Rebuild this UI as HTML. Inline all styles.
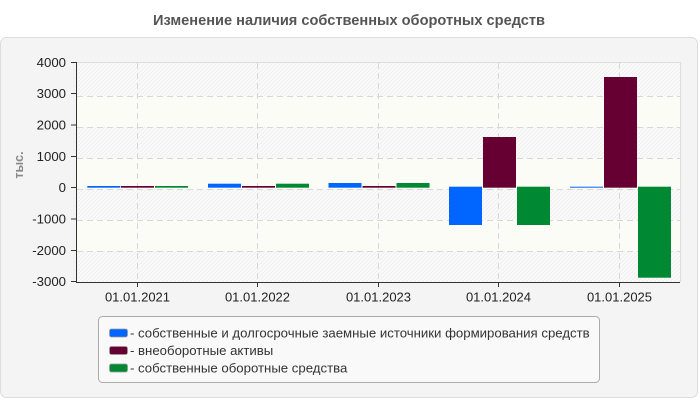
<!DOCTYPE html>
<html>
<head>
<meta charset="utf-8">
<style>
html,body{margin:0;padding:0;background:#fff;}
svg{display:block;}
text{font-family:"Liberation Sans","DejaVu Sans",sans-serif;}
</style>
</head>
<body>
<svg width="700" height="400" viewBox="0 0 700 400" xmlns="http://www.w3.org/2000/svg">
  <defs>
    <pattern id="hatch" patternUnits="userSpaceOnUse" width="4" height="4">
      <rect width="4" height="4" fill="#fbfbfb"/>
      <path d="M-1,1 L1,-1 M0,4 L4,0 M3,5 L5,3" stroke="#efefef" stroke-width="1"/>
    </pattern>
  </defs>

  <!-- title -->
  <text x="349" y="25" text-anchor="middle" font-size="14.6" font-weight="bold" fill="#555">Изменение наличия собственных оборотных средств</text>

  <!-- outer panel -->
  <rect x="0.5" y="37.5" width="697" height="360" rx="6" ry="6" fill="#f4f4f4" stroke="#dddddd"/>

  <!-- plot bands -->
  <rect x="76" y="62" width="604" height="34" fill="url(#hatch)"/>
  <rect x="76" y="96" width="604" height="31" fill="#fcfcf6"/>
  <rect x="76" y="127" width="604" height="31" fill="url(#hatch)"/>
  <rect x="76" y="158" width="604" height="31" fill="#fcfcf6"/>
  <rect x="76" y="189" width="604" height="31" fill="url(#hatch)"/>
  <rect x="76" y="220" width="604" height="31" fill="#fcfcf6"/>
  <rect x="76" y="251" width="604" height="31" fill="url(#hatch)"/>

  <!-- frame top/right -->
  <path d="M76,62.5 H680.5 V282" stroke="#dddddd" stroke-width="1" fill="none"/>

  <!-- horizontal grid -->
  <g stroke="#d8d8d8" stroke-width="1" stroke-dasharray="6,4">
    <line x1="77" y1="96.5" x2="680" y2="96.5"/>
    <line x1="77" y1="127.5" x2="680" y2="127.5"/>
    <line x1="77" y1="158.5" x2="680" y2="158.5"/>
    <line x1="77" y1="189.5" x2="680" y2="189.5"/>
    <line x1="77" y1="220.5" x2="680" y2="220.5"/>
    <line x1="77" y1="251.5" x2="680" y2="251.5"/>
  </g>
  <!-- vertical grid -->
  <g stroke="#d8d8d8" stroke-width="1" stroke-dasharray="6,4">
    <line x1="137.5" y1="63" x2="137.5" y2="282"/>
    <line x1="257.5" y1="63" x2="257.5" y2="282"/>
    <line x1="378.5" y1="63" x2="378.5" y2="282"/>
    <line x1="498.5" y1="63" x2="498.5" y2="282"/>
    <line x1="619.5" y1="63" x2="619.5" y2="282"/>
  </g>

  <!-- bars -->
  <g>
    <rect x="87.3" y="186" width="33" height="1.7" fill="#0066ff"/>
    <rect x="121" y="186" width="33" height="1.7" fill="#660033"/>
    <rect x="155" y="186" width="33" height="1.7" fill="#008833"/>

    <rect x="208" y="183.7" width="33" height="4" fill="#0066ff"/>
    <rect x="242" y="186" width="33" height="1.7" fill="#660033"/>
    <rect x="276" y="183.7" width="33" height="4" fill="#008833"/>

    <rect x="328.5" y="183" width="33" height="4.7" fill="#0066ff"/>
    <rect x="362.5" y="186" width="33" height="1.7" fill="#660033"/>
    <rect x="396.5" y="183" width="33" height="4.7" fill="#008833"/>

    <rect x="449" y="186.7" width="33" height="38.3" fill="#0066ff"/>
    <rect x="483" y="137" width="33" height="50.7" fill="#660033"/>
    <rect x="517" y="186.7" width="33" height="38.3" fill="#008833"/>

    <rect x="570" y="186.7" width="33" height="1" fill="#0066ff"/>
    <rect x="604" y="77" width="33" height="110.7" fill="#660033"/>
    <rect x="638" y="186.7" width="33" height="91" fill="#008833"/>
  </g>

  <!-- axes -->
  <g stroke="#333" stroke-width="1" fill="none">
    <line x1="76.5" y1="62" x2="76.5" y2="282.5"/>
    <line x1="76" y1="282.5" x2="680" y2="282.5"/>
    <line x1="71" y1="62.5" x2="76" y2="62.5"/>
    <line x1="71" y1="93.5" x2="76" y2="93.5"/>
    <line x1="71" y1="125" x2="76" y2="125"/>
    <line x1="71" y1="156.5" x2="76" y2="156.5"/>
    <line x1="71" y1="187.5" x2="76" y2="187.5"/>
    <line x1="71" y1="219" x2="76" y2="219"/>
    <line x1="71" y1="250.5" x2="76" y2="250.5"/>
    <line x1="71" y1="281.5" x2="76" y2="281.5"/>
    <line x1="137.5" y1="282" x2="137.5" y2="287"/>
    <line x1="257.5" y1="282" x2="257.5" y2="287"/>
    <line x1="378.5" y1="282" x2="378.5" y2="287"/>
    <line x1="498.5" y1="282" x2="498.5" y2="287"/>
    <line x1="619.5" y1="282" x2="619.5" y2="287"/>
  </g>

  <!-- y labels -->
  <g font-size="13.2" fill="#222" text-anchor="end">
    <text x="66" y="67">4000</text>
    <text x="66" y="98">3000</text>
    <text x="66" y="129.5">2000</text>
    <text x="66" y="161">1000</text>
    <text x="66" y="192">0</text>
    <text x="66" y="223.5">-1000</text>
    <text x="66" y="255">-2000</text>
    <text x="66" y="286">-3000</text>
  </g>

  <!-- y axis title -->
  <text transform="translate(23,165) rotate(-90)" text-anchor="middle" font-size="12.5" font-weight="bold" fill="#888">тыс.</text>

  <!-- x labels -->
  <g font-size="13" fill="#222" text-anchor="middle">
    <text x="137.5" y="301.5">01.01.2021</text>
    <text x="257.5" y="301.5">01.01.2022</text>
    <text x="378.5" y="301.5">01.01.2023</text>
    <text x="498.5" y="301.5">01.01.2024</text>
    <text x="619.5" y="301.5">01.01.2025</text>
  </g>

  <!-- legend -->
  <rect x="98.5" y="316.5" width="501" height="66" rx="4" ry="4" fill="#f9f9f9" stroke="#aaaaaa"/>
  <rect x="109.5" y="329" width="18" height="8" rx="2" ry="2" fill="#0066ff" stroke="#999" stroke-width="0.8"/>
  <rect x="109.5" y="346.5" width="18" height="8" rx="2" ry="2" fill="#660033" stroke="#999" stroke-width="0.8"/>
  <rect x="109.5" y="364" width="18" height="8" rx="2" ry="2" fill="#008833" stroke="#999" stroke-width="0.8"/>
  <g font-size="13.2" fill="#333">
    <text x="130" y="337.5">- собственные и долгосрочные заемные источники формирования средств</text>
    <text x="130" y="355">- внеоборотные активы</text>
    <text x="130" y="372.5">- собственные оборотные средства</text>
  </g>
</svg>
</body>
</html>
